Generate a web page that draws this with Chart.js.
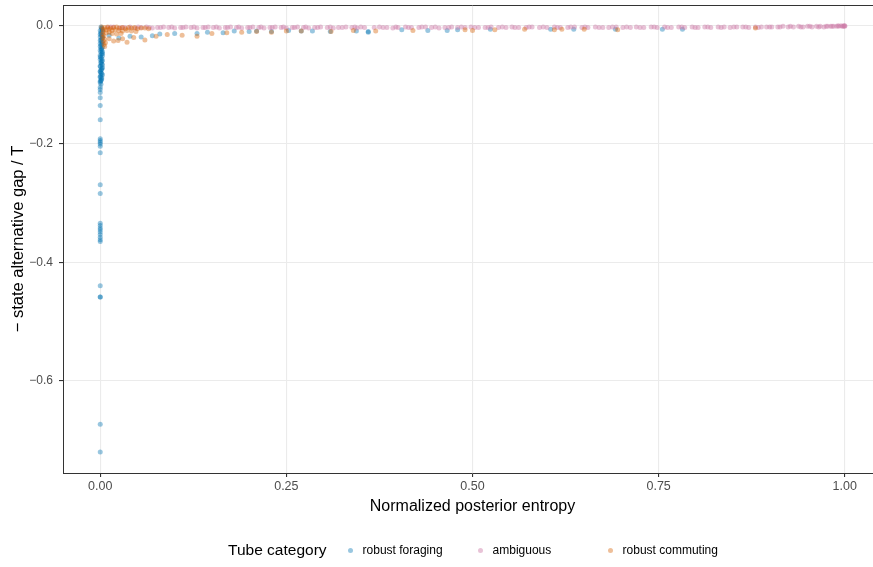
<!DOCTYPE html>
<html>
<head>
<meta charset="utf-8">
<script src="https://cdn.jsdelivr.net/npm/chart.js@4"></script>
<style>
html, body { margin: 0; padding: 0; background: #fff; overflow: hidden; width: 873px; height: 567px; }
#wrap { position: relative; width: 946px; height: 567px; }
#legend {
    position: absolute; left: 0; top: 540px; width: 946px; height: 20px;
    display: flex; justify-content: center; align-items: center;
    font-family: "Liberation Sans", Arial, sans-serif; color: #000;
}
#legend .title { font-size: 15.5px; margin-right: 12.5px; }
#legend .item { display: flex; align-items: center; font-size: 12px; width: 130px; white-space: nowrap; }
#legend .item:last-child { width: auto; }
#legend .key { width: 23px; display: flex; justify-content: center; margin-right: 0.5px; }
#legend .dot { width: 5px; height: 5px; border-radius: 50%; }
</style>
</head>
<body>
<div id="wrap">
    <canvas id="chart" width="946" height="567"></canvas>
    <div id="legend"></div>
</div>
<script>
// ------------------ Data ------------------
const categories = ['robust foraging', 'ambiguous', 'robust commuting'];
const colors = ['rgba(0, 114, 178, 0.4)', 'rgba(204, 121, 167, 0.45)', 'rgba(213, 94, 0, 0.4)'];

const xTickValues = [0, 0.25, 0.5, 0.75, 1];
const xTickLabels = ['0.00', '0.25', '0.50', '0.75', '1.00'];
const yTickValues = [-0.6, -0.4, -0.2, 0];
const yTickLabels = ['\u22120.6', '\u22120.4', '\u22120.2', '0.0'];

// robust foraging: [entropy, gap]
const foragingPts = [
    [0.001,-0.002],[0.002,-0.005],[0.000,-0.008],[0.003,-0.010],[0.001,-0.013],[0.002,-0.016],[0.000,-0.019],
    [0.003,-0.021],[0.001,-0.024],[0.002,-0.027],[0.000,-0.030],[0.001,-0.033],[0.003,-0.036],[0.002,-0.039],
    [0.000,-0.042],[0.001,-0.045],[0.002,-0.048],[0.003,-0.051],[0.001,-0.054],[0.000,-0.057],[0.002,-0.060],
    [0.001,-0.063],[0.003,-0.066],[0.000,-0.069],[0.002,-0.072],[0.001,-0.075],[0.000,-0.078],[0.002,-0.081],
    [0.001,-0.084],[0.000,-0.087],[0.002,-0.090],[0.001,-0.093],[0.000,-0.096],[0.001,-0.099],
    [0.002,-0.004],[0.001,-0.011],[0.003,-0.018],[0.000,-0.025],[0.002,-0.031],[0.001,-0.038],[0.003,-0.044],
    [0.000,-0.050],[0.002,-0.056],[0.001,-0.062],[0.000,-0.068],[0.002,-0.074],[0.001,-0.080],[0.000,-0.086],
    [0.001,-0.092],[0.003,-0.007],[0.000,-0.015],[0.002,-0.022],[0.003,-0.029],[0.000,-0.035],[0.002,-0.041],
    [0.003,-0.047],[0.000,-0.053],[0.003,-0.059],[0.002,-0.065],[0.003,-0.071],[0.000,-0.077],[0.003,-0.083],
    [0.002,-0.088],[0.000,-0.094],
    [0,-0.104],[0,-0.108],[0,-0.113],[0,-0.122],[0,-0.135],[0,-0.159],[0,-0.191],[0,-0.194],[0,-0.197],
    [0,-0.200],[0,-0.204],[0,-0.215],[0,-0.269],[0,-0.284],[0,-0.334],[0,-0.338],[0,-0.342],[0,-0.345],
    [0,-0.349],[0,-0.353],[0,-0.358],[0,-0.362],[0,-0.365],[0,-0.440],[0,-0.459],[0,-0.459],[0,-0.674],
    [0,-0.721],
    [0.012,-0.016],[0.025,-0.021],[0.040,-0.018],[0.055,-0.019],[0.070,-0.017],[0.080,-0.014],[0.100,-0.013],
    [0.130,-0.013],[0.144,-0.011],[0.165,-0.012],[0.180,-0.009],[0.200,-0.010],[0.210,-0.009],[0.230,-0.010],
    [0.253,-0.008],[0.270,-0.009],[0.285,-0.009],[0.309,-0.010],[0.344,-0.009],[0.360,-0.010],[0.360,-0.011],
    [0.405,-0.007],[0.440,-0.008],[0.466,-0.008],[0.480,-0.007],[0.524,-0.006],[0.605,-0.006],[0.636,-0.006],
    [0.692,-0.006],[0.755,-0.006],[0.782,-0.006]
];

// ambiguous
const ambiguousPts = [
    [0.010,-0.003],[0.018,-0.002],[0.025,-0.004],[0.033,-0.003],[0.040,-0.002],[0.047,-0.004],[0.055,-0.003],
    [0.062,-0.002],[0.070,-0.004],[0.077,-0.003],[0.085,-0.002],[0.092,-0.003],[0.100,-0.004],[0.108,-0.003],
    [0.115,-0.002],[0.122,-0.003],[0.130,-0.004],[0.138,-0.003],[0.145,-0.002],[0.152,-0.003],[0.160,-0.004],
    [0.168,-0.003],[0.175,-0.002],[0.183,-0.003],[0.190,-0.004],[0.198,-0.003],[0.205,-0.002],[0.213,-0.003],
    [0.220,-0.004],[0.228,-0.003],[0.235,-0.002],[0.243,-0.003],[0.250,-0.004],[0.258,-0.003],[0.265,-0.002],
    [0.273,-0.003],[0.280,-0.004],[0.288,-0.003],[0.296,-0.002],[0.305,-0.003],[0.313,-0.004],[0.320,-0.003],
    [0.330,-0.002],[0.338,-0.003],[0.345,-0.004],[0.355,-0.003],[0.368,-0.003],[0.375,-0.002],[0.385,-0.003],
    [0.393,-0.004],[0.400,-0.003],[0.410,-0.002],[0.418,-0.003],[0.428,-0.003],[0.437,-0.002],[0.445,-0.003],
    [0.455,-0.004],[0.463,-0.003],[0.472,-0.002],[0.480,-0.003],[0.490,-0.003],[0.498,-0.002],[0.508,-0.003],
    [0.517,-0.003],[0.525,-0.002],[0.535,-0.003],[0.545,-0.003],[0.553,-0.002],[0.562,-0.003],[0.572,-0.003],
    [0.580,-0.002],[0.590,-0.003],[0.600,-0.003],[0.610,-0.002],[0.618,-0.003],[0.628,-0.003],[0.637,-0.002],
    [0.647,-0.003],[0.655,-0.003],[0.665,-0.002],[0.675,-0.003],[0.683,-0.003],[0.693,-0.002],[0.702,-0.003],
    [0.712,-0.003],[0.720,-0.002],[0.730,-0.003],[0.740,-0.002],[0.748,-0.003],[0.758,-0.002],[0.767,-0.003],
    [0.777,-0.002],[0.785,-0.003],[0.795,-0.002],[0.803,-0.003],[0.812,-0.002],[0.820,-0.003],[0.830,-0.002],
    [0.838,-0.002],[0.846,-0.003],[0.855,-0.002],[0.863,-0.002],[0.871,-0.003],[0.880,-0.002],[0.888,-0.002],
    [0.895,-0.002],[0.902,-0.002],[0.910,-0.002],[0.917,-0.001],[0.924,-0.002],[0.931,-0.002],[0.938,-0.001],
    [0.944,-0.002],[0.950,-0.001],[0.956,-0.002],[0.962,-0.001],[0.967,-0.001],[0.972,-0.002],[0.977,-0.001],
    [0.981,-0.001],[0.985,-0.001],[0.989,-0.001],[0.992,-0.001],[0.995,0.000],[0.997,-0.001],[0.999,0.000],
    [1.000,0.000],[1.000,-0.001],
    [0.014,-0.002],[0.029,-0.003],[0.051,-0.002],[0.066,-0.003],[0.081,-0.003],[0.096,-0.002],[0.111,-0.003],
    [0.126,-0.002],[0.141,-0.003],[0.156,-0.002],[0.171,-0.003],[0.186,-0.002],[0.201,-0.003],[0.216,-0.002],
    [0.231,-0.003],[0.246,-0.002],[0.261,-0.003],[0.276,-0.002],[0.292,-0.003],[0.309,-0.002],[0.325,-0.003],
    [0.342,-0.002],[0.350,-0.002],[0.380,-0.003],[0.397,-0.002],[0.414,-0.003],[0.432,-0.002],[0.450,-0.002],
    [0.468,-0.003],[0.485,-0.002],[0.503,-0.003],[0.521,-0.003],[0.540,-0.002],[0.557,-0.003],[0.576,-0.002],
    [0.595,-0.002],[0.614,-0.003],[0.632,-0.002],[0.651,-0.002],[0.670,-0.003],[0.688,-0.002],[0.707,-0.002],
    [0.725,-0.003],[0.744,-0.002],[0.762,-0.003],[0.781,-0.002],[0.799,-0.003],[0.816,-0.002],[0.834,-0.003],
    [0.851,-0.002],[0.867,-0.002],[0.884,-0.003],[0.899,-0.002],[0.913,-0.002],[0.927,-0.001],[0.941,-0.002],
    [0.953,-0.001],[0.965,-0.002],[0.975,-0.001],[0.983,-0.001],[0.991,0.000],[0.998,-0.001]
];

// robust commuting
const commutingPts = [
    [0.002,-0.002],[0.006,-0.003],[0.010,-0.002],[0.014,-0.004],[0.018,-0.003],[0.022,-0.002],[0.026,-0.004],
    [0.030,-0.003],[0.034,-0.005],[0.038,-0.003],[0.042,-0.004],[0.046,-0.003],[0.050,-0.005],[0.055,-0.004],
    [0.060,-0.004],[0.065,-0.005],
    [0.004,-0.006],[0.008,-0.007],[0.012,-0.006],[0.016,-0.008],[0.020,-0.007],[0.025,-0.008],[0.030,-0.009],
    [0.036,-0.008],[0.042,-0.009],[0.048,-0.010],
    [0.004,-0.010],[0.008,-0.012],[0.012,-0.011],[0.016,-0.013],[0.022,-0.014],[0.028,-0.013],
    [0.003,-0.014],[0.005,-0.017],[0.003,-0.020],[0.006,-0.023],[0.004,-0.026],[0.007,-0.029],[0.005,-0.032],
    [0.006,-0.035],
    [0.012,-0.022],[0.018,-0.026],[0.024,-0.025],[0.030,-0.022],[0.036,-0.028],[0.045,-0.020],[0.060,-0.024],
    [0.075,-0.018],[0.090,-0.015],[0.110,-0.016],[0.130,-0.018],[0.150,-0.013],[0.170,-0.012],[0.190,-0.011],
    [0.210,-0.010],[0.230,-0.011],[0.250,-0.009],[0.270,-0.009],[0.310,-0.010],[0.340,-0.008],[0.370,-0.009],
    [0.420,-0.008],[0.490,-0.007],[0.500,-0.008],[0.530,-0.007],[0.570,-0.006],[0.610,-0.007],[0.620,-0.006],
    [0.650,-0.006],[0.695,-0.007],[0.880,-0.004]
];

const seriesPts = [foragingPts, ambiguousPts, commutingPts];

// ------------------ Legend ------------------
const legend = document.getElementById('legend');
legend.innerHTML = '<span class="title">Tube category</span>' + categories.map(function(name, i) {
    return '<span class="item"><span class="key"><span class="dot" style="background:' + colors[i] +
        '"></span></span>' + name + '</span>';
}).join('');

// ------------------ Chart ------------------
const panelBorder = {
    id: 'panelBorder',
    afterDatasetsDraw: function(chart) {
        const ctx = chart.ctx;
        const a = chart.chartArea;
        ctx.save();
        ctx.strokeStyle = '#333333';
        ctx.lineWidth = 1;
        ctx.beginPath();
        ctx.moveTo(a.left, Math.round(a.top) + 0.5);
        ctx.lineTo(a.right, Math.round(a.top) + 0.5);
        ctx.stroke();
        ctx.restore();
    }
};

const font = { family: '"Liberation Sans", Arial, sans-serif' };

new Chart(document.getElementById('chart').getContext('2d'), {
    type: 'scatter',
    data: {
        datasets: categories.map(function(name, i) {
            return {
                label: name,
                data: seriesPts[i].map(function(p) { return { x: p[0], y: p[1] }; }),
                backgroundColor: colors[i],
                borderWidth: 0,
                pointRadius: 2.5,
                order: 3 - i
            };
        })
    },
    options: {
        responsive: false,
        animation: false,
        events: [],
        layout: { padding: { left: 0, right: 64, top: 5, bottom: 51 } },
        plugins: { legend: { display: false }, tooltip: { enabled: false } },
        scales: {
            x: {
                type: 'linear',
                min: -0.05,
                max: 1.05,
                afterBuildTicks: function(scale) {
                    scale.ticks = xTickValues.map(function(v) { return { value: v }; });
                },
                afterFit: function(scale) {
                    scale.height = 43;
                    scale.paddingLeft = 0;
                    scale.paddingRight = 0;
                },
                ticks: {
                    color: '#4D4D4D',
                    font: Object.assign({ size: 12.5 }, font),
                    padding: 2,
                    maxRotation: 0,
                    callback: function(v, i) { return xTickLabels[i]; }
                },
                grid: { color: '#EBEBEB', lineWidth: 1.1, tickColor: '#333333', tickLength: 4 },
                border: { color: '#333333', width: 1 },
                title: {
                    display: true,
                    text: 'Normalized posterior entropy',
                    color: '#000',
                    font: Object.assign({ size: 16 }, font),
                    padding: 0
                }
            },
            y: {
                type: 'linear',
                min: -0.7565,
                max: 0.035,
                afterBuildTicks: function(scale) {
                    scale.ticks = yTickValues.map(function(v) { return { value: v }; });
                },
                afterFit: function(scale) {
                    scale.width = 63;
                    scale.paddingTop = 0;
                    scale.paddingBottom = 0;
                },
                ticks: {
                    color: '#4D4D4D',
                    font: Object.assign({ size: 12 }, font),
                    padding: 6,
                    callback: function(v, i) { return yTickLabels[i]; }
                },
                grid: { color: '#EBEBEB', lineWidth: 1.1, tickColor: '#333333', tickLength: 4 },
                border: { color: '#333333', width: 1 },
                title: {
                    display: true,
                    text: '\u2212 state alternative gap / T',
                    color: '#000',
                    font: Object.assign({ size: 16.5 }, font),
                    padding: { top: 9, bottom: 0 }
                }
            }
        }
    },
    plugins: [panelBorder]
});
</script>
</body>
</html>
